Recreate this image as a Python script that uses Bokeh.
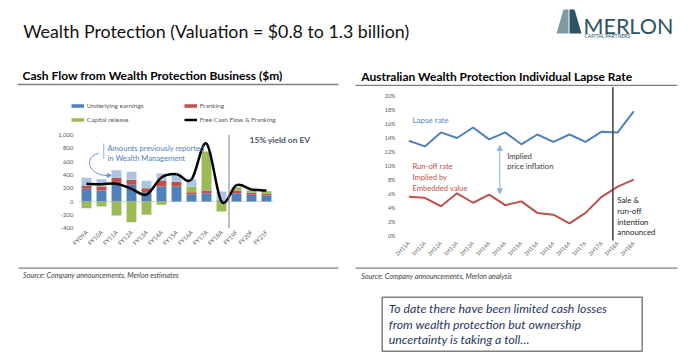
import numpy as np
from bokeh.plotting import figure
from bokeh.layouts import column, row
from bokeh.models import (Range1d, FixedTicker, NumeralTickFormatter, PrintfTickFormatter,
                          Legend, LegendItem, Arrow, NormalHead)
from bokeh.core.properties import value
from bokeh.embed import file_html
from bokeh.resources import INLINE

FONT = "Lato"

# ---------------- data: cash flow chart ----------------
cf_categories = ["FY09A", "FY10A", "FY11A", "FY12A", "FY13A", "FY14A", "FY15A",
                 "FY16A", "FY17A", "FY18A", "FY19F", "FY20F", "FY21F"]
underlying_earnings = [190, 165, 265, 250, 140, 225, 225, 110, 125, 20, 125, 100, 90]
franking = [50, 60, 90, 75, 60, 90, 70, 30, 40, 0, 40, 30, 25]
capital_release = [-100, -75, -210, -310, -200, -50, 0, 85, 585, -150, 50, 35, 40]
previously_in_wm = [115, 110, 115, 120, 110, 105, 115, 105, 0, 130, 0, 0, 0]
fcf_and_franking = [265, 260, 265, 190, 105, 360, 410, 330, 870, 0, 245, 180, 165]
cf_ticks = [-400, -200, 0, 200, 400, 600, 800, 1000]

# ---------------- data: lapse rate chart ----------------
lapse_categories = ["2H11A", "1H12A", "2H12A", "1H13A", "2H13A", "1H14A", "2H14A", "1H15A",
                    "2H15A", "1H16A", "2H16A", "1H17A", "2H17A", "1H18A", "2H18A"]
lapse_rate = [13.6, 12.8, 14.8, 14.0, 15.5, 13.8, 14.8, 13.1, 14.5, 13.45, 14.5, 13.45, 14.9, 14.8, 17.8]
runoff_rate = [5.6, 5.45, 4.25, 6.1, 4.75, 5.9, 4.4, 4.95, 3.3, 3.05, 1.8, 3.3, 5.6, 7.05, 8.05]
lapse_ticks = [0, 2, 4, 6, 8, 10, 12, 14, 16, 18, 20]

BLUE = "#4F81BD"
RED = "#C0504D"
GREEN = "#9BBB59"
LIGHTBLUE = "#A9C4E4"
AXIS_TXT = "#595959"


def base_fig(**kw):
    p = figure(output_backend="svg", toolbar_location=None, min_border=0, **kw)
    p.background_fill_color = "white"
    p.border_fill_color = "white"
    p.outline_line_color = None
    p.xgrid.visible = False
    p.ygrid.visible = False
    return p


def style_axes(p, size):
    for ax in (p.xaxis, p.yaxis):
        ax.axis_line_color = None
        ax.major_tick_line_color = None
        ax.minor_tick_line_color = None
        ax.major_tick_out = 0
        ax.major_tick_in = 0
        ax.major_label_text_font = FONT
        ax.major_label_text_font_size = size
        ax.major_label_text_color = AXIS_TXT


# ---------------- header (page 0..86) ----------------
ph = base_fig(width=699, height=86, x_range=Range1d(0, 699), y_range=Range1d(86, 0),
              x_axis_type=None, y_axis_type=None)
ph.text(x=[22.7], y=[30.5], text=["Wealth Protection  (Valuation = $0.8 to 1.3 billion)"],
        text_font=value(FONT), text_font_size="17.8px", text_color="#111111",
        text_baseline="alphabetic", text_align="left")
# logo
ph.patches(xs=[[556, 563, 568, 568], [569, 569, 574, 581]],
           ys=[[33, 9, 9, 33], [33, 9, 9, 33]],
           fill_color=["#7E9AA2", "#2E5461"], line_color=None)
ph.text(x=[583], y=[25], text=["MERLON"], text_font=value(FONT), text_font_size="21.5px",
        text_color="#2E5461", text_baseline="alphabetic", text_align="left")
ph.text(x=[584], y=[35], text=["CAPITAL PARTNERS"], text_font=value(FONT), text_font_size="5px",
        text_color="#2E5461", text_baseline="alphabetic", text_align="left")
# section titles
ph.text(x=[22, 360.7], y=[75, 75.7],
        text=["Cash Flow from Wealth Protection Business ($m)",
              "Australian Wealth Protection Individual Lapse Rate"],
        text_font=value(FONT), text_font_style="bold", text_font_size="12px",
        text_color="#000000", text_baseline="middle", text_align="left")
ph.segment(x0=[17, 355], y0=[84, 85], x1=[338, 677], y1=[84, 85], line_color="#808080", line_width=1.5)

# ---------------- left chart (page x 0..345, y 86..264) ----------------
pl = base_fig(width=345, height=178, x_range=Range1d(-5.733, 17.267), y_range=Range1d(-945, 1725))
style_axes(pl, "6px")
idx = np.arange(len(cf_categories))
ue = np.array(underlying_earnings, dtype=float)
fr = np.array(franking, dtype=float)
cr = np.array(capital_release, dtype=float)
wm = np.array(previously_in_wm, dtype=float)
base = ue + fr
cr_bottom = np.where(cr >= 0, base, 0)
cr_top = np.where(cr >= 0, base + cr, cr)
wm_bottom = base + np.maximum(cr, 0)
wm_top = wm_bottom + wm

pl.segment(x0=[-0.5], y0=[0], x1=[len(cf_categories) - 0.5], y1=[0], line_color="#D9D9D9", line_width=1)
bw = 0.66
pl.vbar(x=idx, width=bw, bottom=0, top=ue, fill_color=BLUE, line_color=None)
pl.vbar(x=idx, width=bw, bottom=ue, top=base, fill_color=RED, line_color=None)
pl.vbar(x=idx, width=bw, bottom=cr_bottom, top=cr_top, fill_color=GREEN, line_color=None)
pl.vbar(x=idx, width=bw, bottom=wm_bottom, top=wm_top, fill_color=LIGHTBLUE, line_color=None)

# smoothed line (Catmull-Rom as cubic Bezier segments, like Excel's smoothed line)
xs = idx.astype(float)
ys = np.array(fcf_and_franking, dtype=float)
xp = np.concatenate([[xs[0]], xs, [xs[-1]]])
yp = np.concatenate([[ys[0]], ys, [ys[-1]]])
seg = np.arange(len(xs) - 1)
cx0 = xs[seg] + (xp[seg + 2] - xp[seg]) / 6
cy0 = ys[seg] + (yp[seg + 2] - yp[seg]) / 6
cx1 = xs[seg + 1] - (xp[seg + 3] - xp[seg + 1]) / 6
cy1 = ys[seg + 1] - (yp[seg + 3] - yp[seg + 1]) / 6
pl.bezier(x0=xs[seg], y0=ys[seg], x1=xs[seg + 1], y1=ys[seg + 1],
          cx0=cx0, cy0=cy0, cx1=cx1, cy1=cy1, line_color="black", line_width=2.5)

# actual / forecast divider
n_actual = sum(1 for c in cf_categories if c.endswith("A"))
pl.segment(x0=[n_actual - 0.5], y0=[min(cf_ticks)], x1=[n_actual - 0.5], y1=[max(cf_ticks)],
           line_color="#7F7F7F", line_width=1)
pl.text(x=[10.87], y=[930], text=["15% yield on EV"], text_font=value(FONT), text_font_style="bold",
        text_font_size="8.4px", text_color="#44546A", text_baseline="middle", text_align="left")

# annotation about Wealth Management
pl.segment(x0=[1.15], y0=[870], x1=[1.15], y1=[645], line_color="#95B3D7", line_width=1)
pl.text(x=[1.4, 1.4], y=[810, 660], text=["Amounts previously reported", "in Wealth Management"],
        text_font=value(FONT), text_font_size="7.6px", text_color="#4F81BD",
        text_baseline="middle", text_align="left")
pl.bezier(x0=[0.8], y0=[720], x1=[1.5], y1=[390], cx0=[-0.15], cy0=[690], cx1=[0.0], cy1=[380],
          line_color="#6F93C8", line_width=1)
pl.add_layout(Arrow(end=NormalHead(size=4, fill_color="#6F93C8", line_color="#6F93C8"),
                    x_start=1.3, y_start=390, x_end=1.65, y_end=390,
                    line_color="#6F93C8", line_width=1))

pl.xaxis.fixed_location = min(cf_ticks)
pl.xaxis.ticker = FixedTicker(ticks=[int(i) for i in idx])
pl.xaxis.major_label_overrides = {int(i): c for i, c in enumerate(cf_categories)}
pl.xaxis.major_label_orientation = np.pi / 4
pl.xaxis.major_label_standoff = 3
pl.yaxis.fixed_location = -0.667
pl.yaxis.ticker = FixedTicker(ticks=cf_ticks)
pl.yaxis.formatter = NumeralTickFormatter(format="0,0")
pl.yaxis.major_label_standoff = 3

# legend (two rows)
r_ue = pl.line(x=[np.nan], y=[np.nan], line_color=BLUE, line_width=3.5)
r_fr = pl.line(x=[np.nan], y=[np.nan], line_color=RED, line_width=3.5)
r_cr = pl.line(x=[np.nan], y=[np.nan], line_color=GREEN, line_width=3.5)
r_fc = pl.line(x=[np.nan], y=[np.nan], line_color="black", line_width=2.5)


def make_legend(items, loc):
    lg = Legend(items=items, orientation="horizontal", location=loc,
                label_text_font=FONT, label_text_font_size="6.5px", label_text_color=AXIS_TXT,
                glyph_width=13, glyph_height=9, label_height=9, label_width=97,
                label_standoff=3, spacing=0, padding=0, margin=0,
                border_line_color=None, background_fill_alpha=0)
    pl.add_layout(lg)


make_legend([LegendItem(label="Underlying earnings", renderers=[r_ue]),
             LegendItem(label="Franking", renderers=[r_fr])], (70.7, 154.5))
make_legend([LegendItem(label="Capital release", renderers=[r_cr]),
             LegendItem(label="Free Cash Flow & Franking", renderers=[r_fc])], (70.7, 140.5))

# ---------------- right chart (page x 345..699, y 86..264) ----------------
pr = base_fig(width=354, height=178, x_range=Range1d(-3.939, 18.09), y_range=Range1d(-4.071, 21.357))
style_axes(pr, "5.5px")
ridx = np.arange(len(lapse_categories))
pr.line(x=ridx, y=lapse_rate, line_color=BLUE, line_width=2)
pr.line(x=ridx, y=runoff_rate, line_color=RED, line_width=2)
pr.segment(x0=[12.7], y0=[-0.643], x1=[12.7], y1=[21.26], line_color="#404040", line_width=1.5)
pr.add_layout(Arrow(start=NormalHead(size=5, fill_color="#8EB4E3", line_color="#8EB4E3"),
                    end=NormalHead(size=5, fill_color="#8EB4E3", line_color="#8EB4E3"),
                    x_start=5.66, y_start=6.03, x_end=5.66, y_end=12.93,
                    line_color="#8EB4E3", line_width=1))
pr.text(x=[0.23], y=[16.6], text=["Lapse rate"], text_font=value(FONT), text_font_size="8px",
        text_color="#5A8AC6", text_baseline="middle", text_align="left")
pr.text(x=[0.23] * 3, y=[9.97, 8.4, 6.86], text=["Run-off rate", "Implied by", "Embedded value"],
        text_font=value(FONT), text_font_size="7.6px", text_color=RED,
        text_baseline="middle", text_align="left")
pr.text(x=[6.12] * 2, y=[11.4, 9.93], text=["Implied", "price inflation"],
        text_font=value(FONT), text_font_size="7.7px", text_color="#404040",
        text_baseline="middle", text_align="left")
pr.text(x=[12.97] * 4, y=[5.21, 3.64, 2.07, 0.6], text=["Sale &", "run-off", "intention", "announced"],
        text_font=value(FONT), text_font_size="7.9px", text_color="#262626",
        text_baseline="middle", text_align="left")
pr.xaxis.fixed_location = -0.643
pr.xaxis.ticker = FixedTicker(ticks=[int(i) for i in ridx])
pr.xaxis.major_label_overrides = {int(i): c for i, c in enumerate(lapse_categories)}
pr.xaxis.major_label_orientation = np.pi / 4
pr.xaxis.major_label_standoff = 2
pr.yaxis.fixed_location = -0.641
pr.yaxis.ticker = FixedTicker(ticks=lapse_ticks)
pr.yaxis.formatter = PrintfTickFormatter(format="%d%%")
pr.yaxis.major_label_standoff = 3

# ---------------- footer (page 264..358) ----------------
pf = base_fig(width=699, height=94, x_range=Range1d(0, 699), y_range=Range1d(358, 264),
              x_axis_type=None, y_axis_type=None)
pf.segment(x0=[18, 355], y0=[267.7, 267.7], x1=[338, 677], y1=[267.7, 267.7],
           line_color="#808080", line_width=1.2)
pf.text(x=[22.5, 360.7], y=[275.3, 275.7],
        text=["Source: Company announcements, Merlon estimates",
              "Source: Company announcements, Merlon analysis"],
        text_font=value(FONT), text_font_style="italic", text_font_size="7.2px",
        text_color="#404040", text_baseline="middle", text_align="left")
pf.quad(left=[381.7], right=[641.7], top=[296.7], bottom=[350.7], fill_color="white",
        line_color="#7F7F7F", line_width=1.5)
pf.text(x=[388.3] * 3, y=[308.3, 324, 339.3],
        text=["To date there have been limited cash losses",
              "from wealth protection but ownership",
              "uncertainty is taking a toll…"],
        text_font=value(FONT), text_font_style="italic", text_font_size="12.3px",
        text_color="#1F3864", text_baseline="middle", text_align="left")

layout = column(ph, row(pl, pr), pf)
open("out.html", "w").write(file_html(layout, INLINE))
